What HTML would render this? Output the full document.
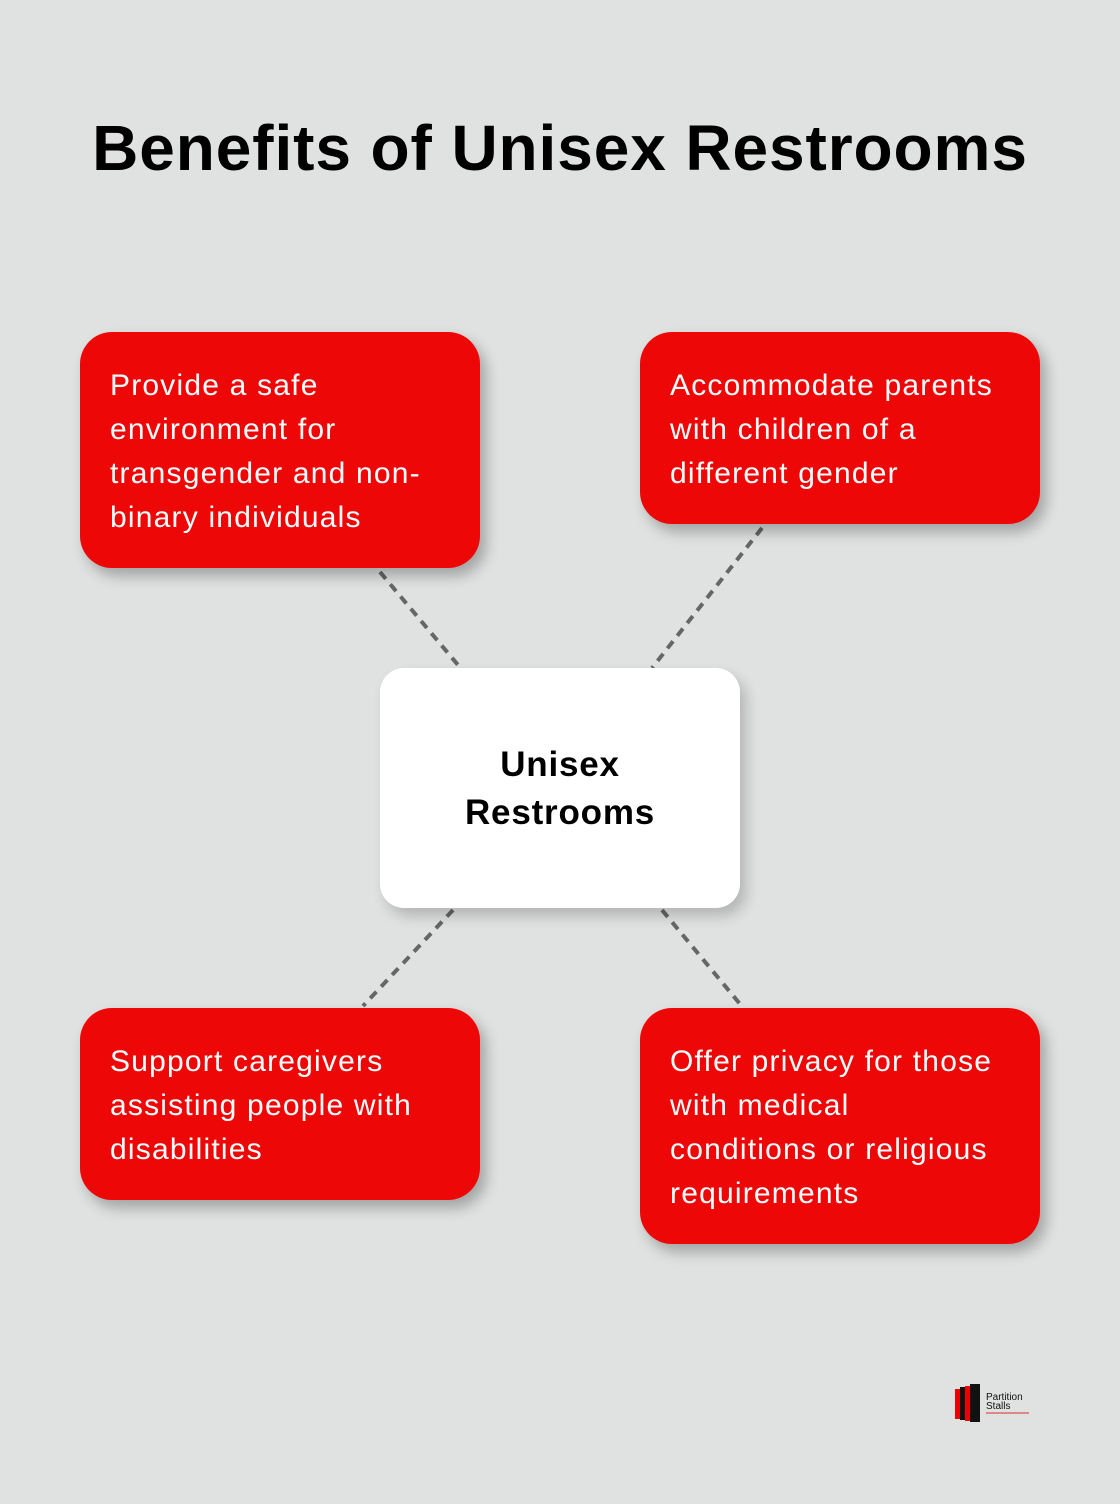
<!DOCTYPE html>
<html><head><meta charset="utf-8"><style>
html,body{margin:0;padding:0}
body{width:1120px;height:1504px;background:#e0e2e1;position:relative;overflow:hidden;font-family:"Liberation Sans",sans-serif}
h1{position:absolute;left:0;width:1120px;top:108px;margin:0;text-align:center;font-size:64px;font-weight:bold;color:#000;letter-spacing:0.9px;line-height:80px}
.box{position:absolute;background:#ee0707;border-radius:32px;box-shadow:6px 8px 14px rgba(0,0,0,0.28);color:#fff;font-size:30px;line-height:44px;letter-spacing:1.2px;white-space:nowrap;box-sizing:border-box;padding:32px 0 0 30px}
.center{position:absolute;left:380px;top:668px;width:360px;height:240px;background:#fff;border-radius:24px;box-shadow:6px 8px 14px rgba(0,0,0,0.2);text-align:center;font-weight:bold;font-size:35px;letter-spacing:0.8px;line-height:48px;box-sizing:border-box;padding-top:73px;color:#000}
svg{position:absolute;left:0;top:0}
</style></head><body>
<h1>Benefits of Unisex Restrooms</h1>
<svg width="1120" height="1504"><g stroke="#666" stroke-width="4" stroke-dasharray="9,7" fill="none">
<line x1="380" y1="572" x2="458" y2="665"/>
<line x1="762" y1="528" x2="652" y2="668"/>
<line x1="453" y1="910" x2="363" y2="1006"/>
<line x1="662" y1="910" x2="740" y2="1004"/>
</g></svg>
<div class="box" style="left:80px;top:332px;width:400px;height:236px">Provide a safe<br>environment for<br>transgender and non-<br>binary individuals</div>
<div class="box" style="left:640px;top:332px;width:400px;height:192px">Accommodate parents<br>with children of a<br>different gender</div>
<div class="center">Unisex<br>Restrooms</div>
<div class="box" style="left:80px;top:1008px;width:400px;height:192px">Support caregivers<br>assisting people with<br>disabilities</div>
<div class="box" style="left:640px;top:1008px;width:400px;height:236px">Offer privacy for those<br>with medical<br>conditions or religious<br>requirements</div>
<svg width="1120" height="1504"><g>
<rect x="955" y="1389" width="5" height="30" fill="#e00"/>
<rect x="960" y="1387" width="5" height="33" fill="#111"/>
<rect x="965" y="1386" width="5" height="35" fill="#e00"/>
<rect x="970" y="1384" width="10" height="38" fill="#111"/>
<text x="986" y="1400" font-size="10" font-family="Liberation Sans" fill="#111">Partition</text>
<text x="986" y="1409" font-size="10" font-family="Liberation Sans" fill="#111">Stalls</text>
<rect x="986" y="1412" width="43" height="2" fill="#d88"/>
</g></svg>
</body></html>
